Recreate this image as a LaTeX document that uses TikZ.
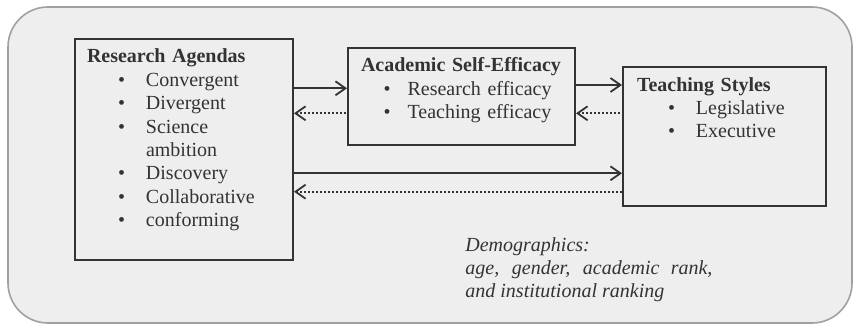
\documentclass[tikz,border=0pt]{standalone}
\usepackage{fontspec}
\setmainfont{Liberation Serif}
\usepackage{xcolor}
\usepackage{tikz}
\usetikzlibrary{arrows.meta}

\definecolor{frameback}{HTML}{EEEEEE}
\definecolor{framerule}{HTML}{A0A0A0}
\definecolor{ink}{HTML}{333333}

% bullet with its indent and the gap to the item text
\newcommand{\itm}[2]{\hspace*{#1}\makebox[#2][l]{\textbullet}}

\begin{document}
\begin{tikzpicture}[
    x=0.5pt, y=-0.5pt,
    font=\fontsize{10}{11.7}\selectfont,
    box/.style={rectangle, draw=ink, line width=1pt, anchor=north west, inner ysep=0pt, align=left, text=ink, text height=12pt},
    arrow/.style={-{Straight Barb[length=5pt,width=7pt]}, draw=ink, line width=0.9pt},
    back/.style={{Straight Barb[length=5pt,width=7pt]}-, draw=ink, line width=0.9pt, dash pattern=on 1pt off 1pt}
]
    \useasboundingbox (0,0) rectangle (855,326);

    % Frame
    \draw[draw=framerule, fill=frameback, line width=0.8pt, rounded corners=20pt] (8,7) rectangle (852,323);

    % Research agendas
    \node[box, inner xsep=6pt, text width=97pt, text depth=98.5pt] (ra) at (74,38) {\textbf{Research Agendas}\\
        \itm{15.5pt}{14pt}Convergent\\
        \itm{15.5pt}{14pt}Divergent\\
        \itm{15.5pt}{14pt}Science\\
        \hspace*{29.5pt}ambition\\
        \itm{15.5pt}{14pt}Discovery\\
        \itm{15.5pt}{14pt}Collaborative\\
        \itm{15.5pt}{14pt}conforming};

    % Academic self-efficacy
    \node[box, inner xsep=6.5pt, text width=100.5pt, text depth=36.5pt] (ase) at (347,47) {\textbf{Academic Self-Efficacy}\\
        \itm{11.3pt}{12pt}Research efficacy\\
        \itm{11.3pt}{12pt}Teaching efficacy};

    % Teaching styles
    \node[box, inner xsep=7pt, text width=87.5pt, text depth=57.5pt] (ts) at (622,66) {\textbf{Teaching Styles}\\
        \itm{15.5pt}{14pt}Legislative\\
        \itm{15.5pt}{14pt}Executive};

    % Demographics
    \node[anchor=north west, align=left, inner sep=0pt, text=ink, font=\fontsize{10}{11.5}\selectfont\itshape] (demo) at (465,237) {Demographics:\\
        \makebox[123.5pt][s]{age, gender, academic rank,}\\
        and institutional ranking};

    % Arrows
    \draw[arrow] ([yshift=4.1pt]ra.east |- ase.west) -- ([yshift=4.1pt]ase.west);
    \draw[back] ([yshift=-8.4pt]ra.east |- ase.west) -- ([yshift=-8.4pt]ase.west);
    \draw[arrow] ([yshift=5.75pt]ase.east) -- ([yshift=5.75pt]ts.west |- ase.east);
    \draw[back] ([yshift=-8.4pt]ase.east) -- ([yshift=-8.4pt]ts.west |- ase.east);
    \draw[arrow] ([yshift=-18.4pt]ra.east |- ts.west) -- ([yshift=-18.4pt]ts.west);
    \draw[back] ([yshift=-27.6pt]ra.east |- ts.west) -- ([yshift=-27.6pt]ts.west);
\end{tikzpicture}
\end{document}
